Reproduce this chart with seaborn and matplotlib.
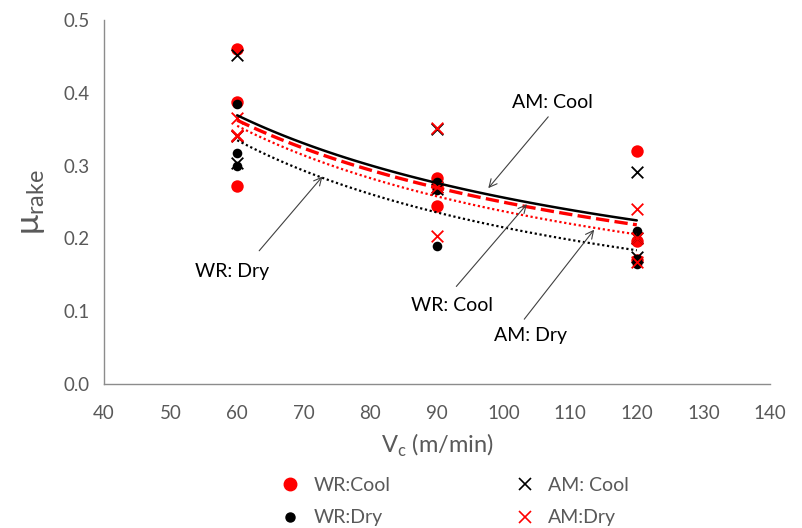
import numpy as np
import pandas as pd
import matplotlib
matplotlib.use("Agg")
import matplotlib.pyplot as plt
import seaborn as sns
from matplotlib.lines import Line2D

sns.set_theme(style="white")
plt.rcParams['font.family'] = ['Lato', 'DejaVu Sans']

# ---- data ----
speeds = [60, 60, 60, 90, 90, 90, 120, 120, 120]
wr_cool = [0.460, 0.387, 0.272, 0.283, 0.272, 0.244, 0.320, 0.197, 0.170]
wr_dry = [0.384, 0.317, 0.300, 0.277, 0.266, 0.190, 0.210, 0.172, 0.165]
am_cool = [0.452, 0.340, 0.303, 0.350, 0.270, 0.268, 0.291, 0.175, 0.200]
am_dry = [0.365, 0.342, 0.340, 0.352, 0.203, 0.270, 0.241, 0.200, 0.168]

series_names = ["WR:Cool", "WR:Dry", "AM: Cool", "AM:Dry"]
series_values = [wr_cool, wr_dry, am_cool, am_dry]

x_ticks = [40, 50, 60, 70, 80, 90, 100, 110, 120, 130, 140]
y_ticks = [0.0, 0.1, 0.2, 0.3, 0.4, 0.5]

# ---- styles ----
marker_style = {
    "WR:Cool": dict(marker="o", color="#ff0000", s=80, linewidth=0),
    "WR:Dry": dict(marker="o", color="#000000", s=48, linewidth=0),
    "AM: Cool": dict(marker="x", color="#000000", s=70, linewidth=1.3),
    "AM:Dry": dict(marker="x", color="#ff0000", s=70, linewidth=1.3),
}
line_style = {
    "WR:Cool": dict(color="#ff0000", lw=2.4, dashes=(4, 1.6)),
    "WR:Dry": dict(color="#000000", lw=1.6, dashes=(1, 1.2)),
    "AM: Cool": dict(color="#000000", lw=1.8, dashes=None),
    "AM:Dry": dict(color="#ff0000", lw=1.6, dashes=(1, 1.2)),
}

rows = []
for name, vals in zip(series_names, series_values):
    for x, y in zip(speeds, vals):
        rows.append(dict(series=name, Vc=x, mu=y))
df = pd.DataFrame(rows)

fig = plt.figure(figsize=(8.03, 5.28), dpi=100)
ax = fig.add_axes([104 / 803, 1 - 384 / 528, (770 - 104) / 803, (384 - 20) / 528])

# power trendlines (least-squares fit on log-log, as a spreadsheet power trendline)
for name in series_names:
    sub = df[df.series == name]
    b, lna = np.polyfit(np.log(sub.Vc), np.log(sub.mu), 1)
    xx = np.linspace(sub.Vc.min(), sub.Vc.max(), 100)
    yy = np.exp(lna) * xx ** b
    st = line_style[name]
    tdf = pd.DataFrame(dict(Vc=xx, mu=yy))
    sns.lineplot(data=tdf, x="Vc", y="mu", ax=ax, color=st["color"], lw=st["lw"],
                 zorder=3, legend=False)
    line = ax.lines[-1]
    if st["dashes"] is not None:
        line.set_dashes(st["dashes"])

for name in series_names:
    sub = df[df.series == name]
    st = marker_style[name]
    sns.scatterplot(data=sub, x="Vc", y="mu", ax=ax, marker=st["marker"], color=st["color"],
                    s=st["s"], linewidth=st["linewidth"], edgecolor=st["color"] if st["marker"] == "o" else None,
                    zorder=2, legend=False)

ax.set_xlim(40, 140)
ax.set_ylim(0, 0.5)
ax.set_xticks(x_ticks)
ax.set_yticks(y_ticks)
ax.set_xticklabels([str(t) for t in x_ticks])
ax.set_yticklabels([f"{t:.1f}" for t in y_ticks])
ax.tick_params(axis="both", labelsize=13.5, labelcolor="#595959", length=0)
ax.tick_params(axis="x", pad=15)
ax.tick_params(axis="y", pad=10)
for side in ["top", "right"]:
    ax.spines[side].set_visible(False)
for side in ["left", "bottom"]:
    ax.spines[side].set_color("#8c8c8c")
    ax.spines[side].set_linewidth(1.0)

ax.set_xlabel(r"V$_\mathregular{c}$ (m/min)", fontsize=17, color="#595959", labelpad=7)
ax.set_ylabel(r"$\mathregular{\mu}_\mathregular{rake}$", fontsize=24, color="#595959", labelpad=12)

# annotations
arrow = dict(arrowstyle="->", color="#404040", lw=0.8, shrinkA=0, shrinkB=0, mutation_scale=14)
ann = [
    ("AM: Cool", (97.7, 0.269), (106.7, 0.367), (107.3, 0.386)),
    ("WR: Dry", (72.8, 0.285), (63.3, 0.183), (59.2, 0.155)),
    ("WR: Cool", (103.5, 0.247), (92.9, 0.134), (92.2, 0.108)),
    ("AM: Dry", (113.6, 0.212), (103.1, 0.089), (104.0, 0.066)),
]
for label, tip, start, txt in ann:
    ax.annotate("", xy=tip, xytext=start, arrowprops=arrow, annotation_clip=False)
    ax.text(txt[0], txt[1], label, fontsize=14, color="#000000", ha="center", va="center")

handles = [
    Line2D([], [], ls="none", marker="o", color="#ff0000", markersize=9),
    Line2D([], [], ls="none", marker="o", color="#000000", markersize=6.5),
    Line2D([], [], ls="none", marker="x", color="#000000", markersize=9, markeredgewidth=1.2),
    Line2D([], [], ls="none", marker="x", color="#ff0000", markersize=9, markeredgewidth=1.2),
]
leg = fig.legend(handles, series_names, ncol=2, loc="center", bbox_to_anchor=(0.565, 0.05),
                 frameon=False, fontsize=14, columnspacing=6.3, handletextpad=0.6,
                 labelspacing=0.8, handlelength=1.2)
for t in leg.get_texts():
    t.set_color("#595959")

fig.savefig("out.png", dpi=100)
